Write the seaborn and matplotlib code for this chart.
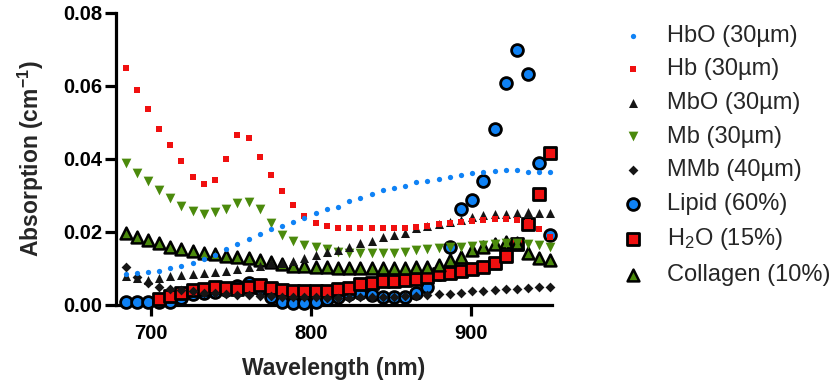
import matplotlib
matplotlib.use('Agg')
import matplotlib.pyplot as plt
import numpy as np
import seaborn as sns

# wavelengths (nm), one point every 7 nm
wavelength = [684, 691, 698, 705, 712, 719, 726, 733, 740, 747, 754, 761, 768,
              775, 782, 789, 796, 803, 810, 817, 824, 831, 838, 845, 852, 859,
              866, 873, 880, 887, 894, 901, 908, 915, 922, 929, 936, 943, 950]

hbo = [0.0085, 0.0087, 0.0089, 0.0094, 0.0100, 0.0108, 0.0116, 0.0125, 0.0137, 0.0153,
       0.0168, 0.0182, 0.0194, 0.0208, 0.0217, 0.0227, 0.0237, 0.0251, 0.0262, 0.0268,
       0.0284, 0.0294, 0.0304, 0.0315, 0.0320, 0.0326, 0.0336, 0.0341, 0.0346, 0.0352,
       0.0356, 0.0361, 0.0365, 0.0367, 0.0370, 0.0370, 0.0365, 0.0365, 0.0363]
hb = [0.0648, 0.0589, 0.0537, 0.0483, 0.0438, 0.0395, 0.0352, 0.0332, 0.0342, 0.0400,
      0.0466, 0.0458, 0.0406, 0.0356, 0.0311, 0.0273, 0.0243, 0.0224, 0.0216, 0.0211,
      0.0211, 0.0211, 0.0211, 0.0211, 0.0211, 0.0211, 0.0213, 0.0216, 0.0222, 0.0224,
      0.0227, 0.0230, 0.0233, 0.0235, 0.0235, 0.0233, 0.0226, 0.0207, 0.0187]
mbo = [0.0079, 0.0073, 0.0068, 0.0074, 0.0079, 0.0082, 0.0085, 0.0088, 0.0091, 0.0094,
       0.0098, 0.0103, 0.0108, 0.0114, 0.0116, 0.0121, 0.0128, 0.0137, 0.0146, 0.0151,
       0.0160, 0.0169, 0.0175, 0.0187, 0.0192, 0.0198, 0.0210, 0.0216, 0.0222, 0.0226,
       0.0233, 0.0240, 0.0247, 0.0249, 0.0249, 0.0253, 0.0256, 0.0253, 0.0251]
mb = [0.0388, 0.0362, 0.0340, 0.0315, 0.0294, 0.0272, 0.0258, 0.0249, 0.0254, 0.0262,
      0.0279, 0.0283, 0.0262, 0.0224, 0.0192, 0.0175, 0.0163, 0.0158, 0.0153, 0.0146,
      0.0143, 0.0142, 0.0142, 0.0142, 0.0143, 0.0146, 0.0151, 0.0153, 0.0155, 0.0160,
      0.0160, 0.0162, 0.0164, 0.0167, 0.0169, 0.0171, 0.0167, 0.0164, 0.0158]
mmb = [0.0105, 0.0078, 0.0061, 0.0050, 0.0043, 0.0040, 0.0037, 0.0034, 0.0032, 0.0030,
       0.0028, 0.0026, 0.0025, 0.0024, 0.0023, 0.0022, 0.0021, 0.0021, 0.0020, 0.0020,
       0.0020, 0.0021, 0.0021, 0.0022, 0.0023, 0.0024, 0.0025, 0.0027, 0.0029, 0.0030,
       0.0034, 0.0037, 0.0039, 0.0041, 0.0043, 0.0045, 0.0047, 0.0048, 0.0050]
lipid = [0.0009, 0.0009, 0.0009, 0.0009, 0.0009, 0.0018, 0.0030, 0.0032, 0.0035, 0.0041,
         0.0052, 0.0059, 0.0043, 0.0023, 0.0009, 0.0005, 0.0005, 0.0009, 0.0016, 0.0023,
         0.0029, 0.0032, 0.0027, 0.0023, 0.0021, 0.0021, 0.0032, 0.0048, 0.0085, 0.0160,
         0.0262, 0.0287, 0.0339, 0.0482, 0.0609, 0.0699, 0.0632, 0.0388, 0.0192]
water = [np.nan, np.nan, np.nan, 0.0016, 0.0024, 0.0032, 0.0040, 0.0045, 0.0048, 0.0046,
         0.0045, 0.0050, 0.0055, 0.0046, 0.0041, 0.0039, 0.0037, 0.0037, 0.0037, 0.0043,
         0.0046, 0.0057, 0.0061, 0.0066, 0.0066, 0.0068, 0.0070, 0.0078, 0.0085, 0.0088,
         0.0092, 0.0098, 0.0105, 0.0116, 0.0134, 0.0167, 0.0222, 0.0304, 0.0416]
collagen = [0.0196, 0.0187, 0.0178, 0.0169, 0.0160, 0.0153, 0.0149, 0.0143, 0.0140, 0.0134,
            0.0131, 0.0128, 0.0123, 0.0117, 0.0112, 0.0108, 0.0106, 0.0105, 0.0104, 0.0102,
            0.0101, 0.0100, 0.0100, 0.0100, 0.0100, 0.0101, 0.0103, 0.0105, 0.0110, 0.0123,
            0.0132, 0.0151, 0.0160, 0.0167, 0.0173, 0.0169, 0.0143, 0.0128, 0.0123]

labels = ['HbO (30\u00b5m)', 'Hb (30\u00b5m)', 'MbO (30\u00b5m)', 'Mb (30\u00b5m)',
          'MMb (40\u00b5m)', 'Lipid (60%)', 'H$_2$O (15%)', 'Collagen (10%)']
x_ticks = [700, 800, 900]
y_ticks = [0.00, 0.02, 0.04, 0.06, 0.08]
y_tick_labels = ['0.00', '0.02', '0.04', '0.06', '0.08']

blue = '#0f82f5'
red = '#f01010'
green = '#4b8a0c'
black = '#151515'

# label, values, marker, marker size, face, edge, edge width, zorder
series = [
    (labels[0], hbo, 'o', 3.8, blue, blue, 0, 10),
    (labels[1], hb, 's', 4.3, red, red, 0, 9),
    (labels[2], mbo, '^', 6.5, black, black, 0, 8),
    (labels[3], mb, 'v', 7.0, green, green, 0, 7),
    (labels[4], mmb, 'D', 5.0, black, black, 0, 6),
    (labels[5], lipid, 'o', 8.5, blue, 'black', 2.0, 3),
    (labels[6], water, 's', 8.5, red, 'black', 2.0, 4),
    (labels[7], collagen, '^', 8.5, green, 'black', 1.8, 5),
]

sns.set_style('ticks')
plt.rcParams['font.family'] = ['Liberation Sans', 'DejaVu Sans']
plt.rcParams['mathtext.fontset'] = 'custom'
plt.rcParams['mathtext.rm'] = 'Liberation Sans'
plt.rcParams['mathtext.it'] = 'Liberation Sans:italic'
plt.rcParams['mathtext.bf'] = 'Liberation Sans:bold'

fig = plt.figure(figsize=(8.37, 3.83), dpi=100)
ax = fig.add_axes([0.1386, 0.2037, 0.5209, 0.7624])

for lab, vals, m, ms, face, edge, lw, z in series:
    sns.scatterplot(x=wavelength, y=vals, ax=ax, marker=m, s=ms ** 2, color=face,
                    edgecolor=edge, linewidth=lw, zorder=z, label=lab, clip_on=False)

ax.set_xlim(678, 951)
ax.set_ylim(0, 0.08)
ax.set_xticks(x_ticks)
ax.set_xticklabels([str(t) for t in x_ticks])
ax.set_yticks(y_ticks)
ax.set_yticklabels(y_tick_labels)
for t in ax.get_xticklabels() + ax.get_yticklabels():
    t.set_fontweight('bold')

sns.despine(ax=ax)
for side in ['left', 'bottom']:
    ax.spines[side].set_linewidth(2.3)
    ax.spines[side].set_color('black')
ax.tick_params(axis='both', width=2.3, length=8, labelsize=14.5, color='black',
               labelcolor='black')
ax.tick_params(axis='y', pad=2)
ax.tick_params(axis='x', pad=6)

ax.set_xlabel('Wavelength (nm)', fontsize=16.5, fontweight='bold', labelpad=10)
ax.set_ylabel(r'Absorption (cm$^{\mathbf{-1}}$)', fontsize=16.5, fontweight='bold',
              labelpad=12)

handles, labs = ax.get_legend_handles_labels()
ax.legend(handles, labs, loc='upper left', bbox_to_anchor=(0.736, 0.935),
          bbox_transform=fig.transFigure, frameon=False, fontsize=17,
          labelspacing=0.49, handlelength=1.45, handletextpad=0.72,
          borderpad=0, borderaxespad=0, scatterpoints=1)

fig.savefig('out.png', dpi=100)
